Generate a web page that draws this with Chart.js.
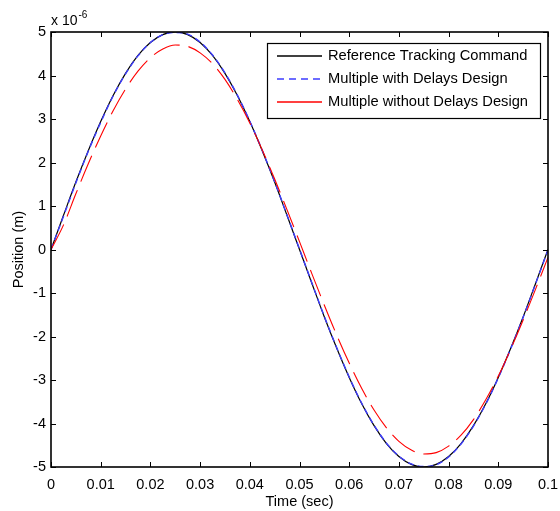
<!DOCTYPE html>
<html>
<head>
<meta charset="utf-8">
<script src="https://cdn.jsdelivr.net/npm/chart.js@4"></script>
<style>
  html, body { margin: 0; padding: 0; background: #fff; }
  canvas { display: block; }
</style>
</head>
<body>
<canvas id="positionChart" width="560" height="511"></canvas>
<script>
// time samples (sec)
const times = [0, 0.0025, 0.005, 0.0075, 0.01, 0.0125, 0.015, 0.0175, 0.02, 0.0225,
  0.025, 0.0275, 0.03, 0.0325, 0.035, 0.0375, 0.04, 0.0425, 0.045, 0.0475,
  0.05, 0.0525, 0.055, 0.0575, 0.06, 0.0625, 0.065, 0.0675, 0.07, 0.0725,
  0.075, 0.0775, 0.08, 0.0825, 0.085, 0.0875, 0.09, 0.0925, 0.095, 0.0975, 0.1];

// position values, in units of 1e-6 m
const referenceCmd = [0, 0.78, 1.55, 2.27, 2.94, 3.54, 4.05, 4.46, 4.76, 4.94,
  5.00, 4.94, 4.76, 4.46, 4.05, 3.54, 2.94, 2.27, 1.55, 0.78,
  0, -0.78, -1.55, -2.27, -2.94, -3.54, -4.05, -4.46, -4.76, -4.94,
  -5.00, -4.94, -4.76, -4.46, -4.05, -3.54, -2.94, -2.27, -1.55, -0.78, 0];

const withDelays = [0, 0.76, 1.53, 2.26, 2.92, 3.53, 4.04, 4.45, 4.76, 4.94,
  4.99, 4.95, 4.77, 4.47, 4.06, 3.55, 2.95, 2.28, 1.56, 0.79,
  0.01, -0.77, -1.54, -2.26, -2.93, -3.53, -4.04, -4.45, -4.75, -4.93,
  -4.99, -4.95, -4.77, -4.47, -4.06, -3.55, -2.95, -2.28, -1.56, -0.79, -0.01];

const withoutDelays = [0, 0.56, 1.28, 1.97, 2.61, 3.19, 3.69, 4.10, 4.41, 4.61,
  4.70, 4.67, 4.52, 4.27, 3.91, 3.45, 2.91, 2.29, 1.62, 0.91,
  0.18, -0.56, -1.28, -1.97, -2.61, -3.19, -3.69, -4.10, -4.41, -4.61,
  -4.70, -4.67, -4.52, -4.27, -3.91, -3.45, -2.91, -2.29, -1.62, -0.91, -0.18];

const xTicks = [0, 0.01, 0.02, 0.03, 0.04, 0.05, 0.06, 0.07, 0.08, 0.09, 0.1];
const yTicks = [-5, -4, -3, -2, -1, 0, 1, 2, 3, 4, 5];

const FONT = 'Liberation Sans, Arial, sans-serif';

function toPoints(arr) {
  return arr.map((v, i) => ({ x: times[i], y: v }));
}

// frame, inward ticks, exponent label and legend, matlab style
const matlabFrame = {
  id: 'matlabFrame',
  afterDraw(chart) {
    const { ctx, chartArea: a, scales } = chart;
    const len = 5;
    ctx.save();
    ctx.strokeStyle = '#000';
    ctx.lineWidth = 1;
    ctx.beginPath();
    xTicks.forEach(t => {
      const px = Math.round(scales.x.getPixelForValue(t)) + 0.5;
      ctx.moveTo(px, a.bottom); ctx.lineTo(px, a.bottom - len);
      ctx.moveTo(px, a.top); ctx.lineTo(px, a.top + len);
    });
    yTicks.forEach(t => {
      const py = Math.round(scales.y.getPixelForValue(t)) + 0.5;
      ctx.moveTo(a.left, py); ctx.lineTo(a.left + len, py);
      ctx.moveTo(a.right, py); ctx.lineTo(a.right - len, py);
    });
    ctx.stroke();
    ctx.lineWidth = 1.6;
    ctx.strokeRect(Math.round(a.left), Math.round(a.top),
      Math.round(a.right - a.left), Math.round(a.bottom - a.top));

    // exponent
    ctx.fillStyle = '#000';
    ctx.textBaseline = 'alphabetic';
    ctx.textAlign = 'left';
    ctx.font = '14px ' + FONT;
    ctx.fillText('x 10', a.left, a.top - 7);
    const w = ctx.measureText('x 10').width;
    ctx.font = '10px ' + FONT;
    ctx.fillText('-6', a.left + w + 1, a.top - 14);

    // legend
    const bx = 267, by = 43, bw = 273, bh = 75;
    ctx.fillStyle = '#fff';
    ctx.fillRect(bx, by, bw, bh);
    ctx.lineWidth = 1.2;
    ctx.strokeRect(bx + 0.5, by + 0.5, bw, bh);
    ctx.font = '14.7px ' + FONT;
    ctx.textBaseline = 'middle';
    chart.data.datasets.forEach((ds, i) => {
      const y = by + 13 + i * 23;
      ctx.beginPath();
      ctx.strokeStyle = ds.borderColor;
      ctx.lineWidth = 1.3;
      ctx.setLineDash(ds.legendDash || []);
      ctx.moveTo(bx + 10, y);
      ctx.lineTo(bx + 55, y);
      ctx.stroke();
      ctx.setLineDash([]);
      ctx.fillStyle = '#000';
      ctx.fillText(ds.label, bx + 61, y);
    });
    ctx.restore();
  }
};

const ctx = document.getElementById('positionChart').getContext('2d');

new Chart(ctx, {
  type: 'line',
  data: {
    datasets: [
      {
        label: 'Reference Tracking Command',
        data: toPoints(referenceCmd),
        borderColor: '#000000',
        borderWidth: 1.2,
        order: 3
      },
      {
        label: 'Multiple with Delays Design',
        data: toPoints(withDelays),
        borderColor: '#3c3cff',
        borderWidth: 1.4,
        borderDash: [6, 4],
        legendDash: [7, 5],
        order: 2
      },
      {
        label: 'Multiple without Delays Design',
        data: toPoints(withoutDelays),
        borderColor: '#ff0000',
        borderWidth: 1.1,
        borderDash: [28, 9],
        order: 1
      }
    ]
  },
  options: {
    responsive: false,
    animation: false,
    events: [],
    layout: { padding: { top: 32, right: 12, left: 0, bottom: 0 } },
    elements: {
      point: { radius: 0 },
      line: { cubicInterpolationMode: 'monotone', fill: false }
    },
    plugins: {
      legend: { display: false },
      tooltip: { enabled: false }
    },
    scales: {
      x: {
        type: 'linear',
        min: 0,
        max: 0.1,
        afterBuildTicks: s => { s.ticks = xTicks.map(v => ({ value: v })); },
        afterFit: s => { s.height = 44; s.paddingLeft = 0; s.paddingRight = 0; },
        grid: { display: false, drawTicks: false },
        border: { display: false },
        ticks: {
          padding: 9,
          color: '#000',
          font: { family: FONT, size: 14.5 },
          maxRotation: 0,
          callback: v => String(+v.toFixed(2))
        },
        title: {
          display: true,
          text: 'Time (sec)',
          color: '#000',
          font: { family: FONT, size: 14.5 },
          padding: { top: 1, bottom: 0 }
        }
      },
      y: {
        type: 'linear',
        min: -5,
        max: 5,
        afterBuildTicks: s => { s.ticks = yTicks.map(v => ({ value: v })); },
        afterFit: s => { s.width = 51; },
        grid: { display: false, drawTicks: false },
        border: { display: false },
        ticks: {
          padding: 5,
          color: '#000',
          font: { family: FONT, size: 14.5 }
        },
        title: {
          display: true,
          text: 'Position (m)',
          color: '#000',
          font: { family: FONT, size: 14.5 },
          padding: { top: 10, bottom: 0 }
        }
      }
    }
  },
  plugins: [matlabFrame]
});
</script>
</body>
</html>
